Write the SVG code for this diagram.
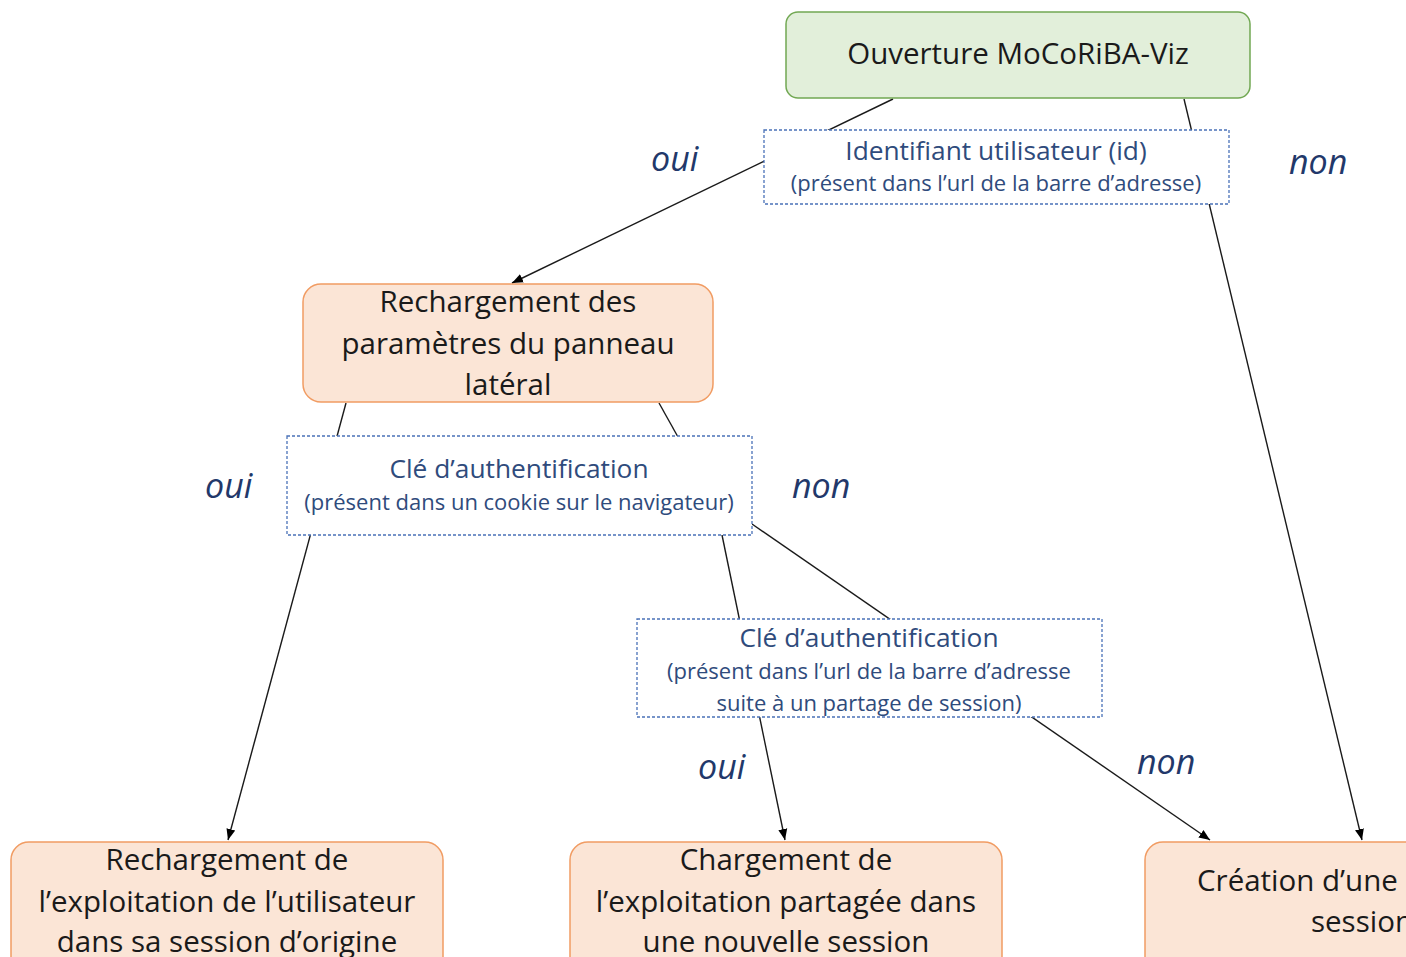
<svg xmlns="http://www.w3.org/2000/svg" width="1406" height="957" viewBox="0 0 1406 957">
<defs>
<style>
.t{font-family:"Open Sans","Noto Sans",sans-serif;fill:#1a1a1a;text-anchor:middle}
.big{font-size:29.5px}
.q1{font-family:"Open Sans","Noto Sans",sans-serif;fill:#2f4b7c;text-anchor:middle;font-size:26.3px}
.q2{font-family:"Open Sans","Noto Sans",sans-serif;fill:#2f4b7c;text-anchor:middle;font-size:22px}
.lbl{font-family:"Open Sans","Noto Sans",sans-serif;fill:#22386a;font-style:italic;font-size:34px}
.orange{fill:#fbe5d6;stroke:#f19c63;stroke-width:1.5}
.green{fill:#e2efda;stroke:#72a853;stroke-width:1.5}
.dash{fill:#ffffff;stroke:#4a72b8;stroke-width:1.3;stroke-dasharray:3 2}
.ln{stroke:#1a1a1a;stroke-width:1.4;fill:none}
</style>
<marker id="ah" markerUnits="userSpaceOnUse" markerWidth="12" markerHeight="12" viewBox="0 0 12 12" refX="11" refY="6" orient="auto">
<path d="M0,1.5 L11,6 L0,10.5 Z" fill="#000"/>
</marker>
</defs>
<rect width="1406" height="957" fill="#ffffff"/>
<g id="connectors">
<line class="ln" x1="893" y1="99" x2="512" y2="283" marker-end="url(#ah)"/>
<line class="ln" x1="1184" y1="99" x2="1362" y2="840" marker-end="url(#ah)"/>
<line class="ln" x1="346" y1="403" x2="228" y2="840" marker-end="url(#ah)"/>
<line class="ln" x1="659" y1="403" x2="678" y2="437"/>
<line class="ln" x1="722" y1="535" x2="785" y2="840" marker-end="url(#ah)"/>
<line class="ln" x1="752" y1="524" x2="1210" y2="840" marker-end="url(#ah)"/>
</g>
<g id="labels">
<text class="lbl" x="651" y="171">oui</text>
<text class="lbl" x="1289" y="174">non</text>
<text class="lbl" x="205" y="498">oui</text>
<text class="lbl" x="792" y="498">non</text>
<text class="lbl" x="698" y="779">oui</text>
<text class="lbl" x="1137" y="774">non</text>
</g>
<g id="node-ouverture">
<rect class="green" x="786" y="12" width="464" height="86" rx="12"/>
<text class="t big" x="1018" y="64">Ouverture MoCoRiBA-Viz</text>
</g>
<g id="node-identifiant">
<rect class="dash" x="764" y="130" width="465" height="74"/>
<text class="q1" x="996" y="160">Identifiant utilisateur (id)</text>
<text class="q2" x="996" y="191">(présent dans l’url de la barre d’adresse)</text>
</g>
<g id="node-rechargement-params">
<rect class="orange" x="303" y="284" width="410" height="118" rx="18"/>
<text class="t big" x="508" y="312">Rechargement des</text>
<text class="t big" x="508" y="354">paramètres du panneau</text>
<text class="t big" x="508" y="395">latéral</text>
</g>
<g id="node-cle-cookie">
<rect class="dash" x="287" y="436" width="465" height="99"/>
<text class="q1" x="519" y="478">Clé d’authentification</text>
<text class="q2" x="519" y="510">(présent dans un cookie sur le navigateur)</text>
</g>
<g id="node-cle-url">
<rect class="dash" x="637" y="619" width="465" height="98"/>
<text class="q1" x="869" y="647">Clé d’authentification</text>
<text class="q2" x="869" y="679">(présent dans l’url de la barre d’adresse</text>
<text class="q2" x="869" y="711">suite à un partage de session)</text>
</g>
<g id="node-rechargement-exploitation">
<rect class="orange" x="11" y="842" width="432" height="140" rx="18"/>
<text class="t big" x="227" y="870">Rechargement de</text>
<text class="t big" x="227" y="912">l’exploitation de l’utilisateur</text>
<text class="t big" x="227" y="952">dans sa session d’origine</text>
</g>
<g id="node-chargement-partagee">
<rect class="orange" x="570" y="842" width="432" height="140" rx="18"/>
<text class="t big" x="786" y="870">Chargement de</text>
<text class="t big" x="786" y="912">l’exploitation partagée dans</text>
<text class="t big" x="786" y="952">une nouvelle session</text>
</g>
<g id="node-creation">
<rect class="orange" x="1145" y="842" width="300" height="140" rx="18"/>
<text class="t big" x="1197" y="891" style="text-anchor:start">Création d’une</text>
<text class="t big" x="1311" y="932" style="text-anchor:start">session</text>
</g>
</svg>
